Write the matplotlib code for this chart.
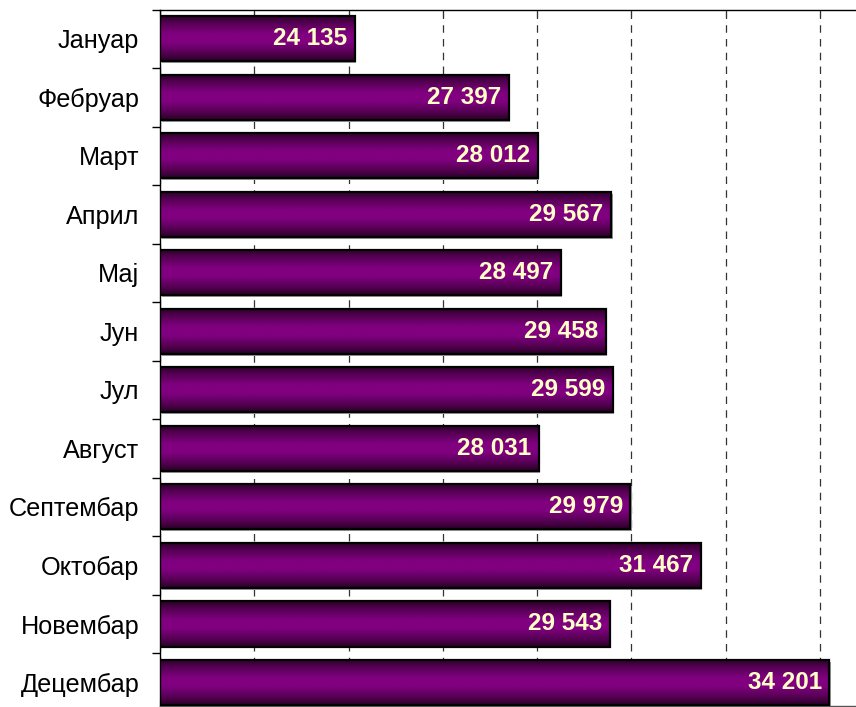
import numpy as np
import matplotlib
matplotlib.use("Agg")
import matplotlib.pyplot as plt
from matplotlib.colors import LinearSegmentedColormap
from matplotlib.patches import Rectangle

months = ["Јануар", "Фебруар", "Март", "Април", "Мај", "Јун", "Јул",
          "Август", "Септембар", "Октобар", "Новембар", "Децембар"]
values = [24135, 27397, 28012, 29567, 28497, 29458, 29599,
          28031, 29979, 31467, 29543, 34201]
x_ticks = [20000, 22000, 24000, 26000, 28000, 30000, 32000, 34000]

plt.rcParams['font.family'] = ['Liberation Sans', 'DejaVu Sans']

W, H = 856, 707
fig = plt.figure(figsize=(W / 100, H / 100), dpi=100)
ax = fig.add_axes([160 / W, (H - 706) / H, 1 - 160 / W, (706 - 9.5) / H])

cmap = LinearSegmentedColormap.from_list(
    "pg", ["#2a0026", "#5a0058", "#800080", "#800080", "#5a0058", "#2a0026"])
grad = np.linspace(0, 1, 256).reshape(-1, 1)

height = 0.77
y = np.arange(len(months))
bars = ax.barh(y, values, left=0, height=height, facecolor="none",
               edgecolor="black", linewidth=1.6, zorder=4)

xmin = 20000
for b in bars:
    x0 = xmin
    x1 = b.get_x() + b.get_width()
    yb = b.get_y()
    yt = yb + b.get_height()
    # subtle shadow
    sh = Rectangle((x0, yb), x1 - x0, b.get_height(), facecolor="#9a9a9a",
                   edgecolor="none", zorder=1.5,
                   transform=ax.transData + matplotlib.transforms.ScaledTranslation(
                       1.5 / 100, -1.8 / 100, fig.dpi_scale_trans))
    ax.add_patch(sh)
    im = ax.imshow(grad, extent=(x0, x1, yt, yb), aspect="auto", cmap=cmap,
                   zorder=2, interpolation="bilinear")
    im.set_clip_path(b)

for yi, v in zip(y, values):
    ax.annotate(f"{v:,}".replace(",", " "), xy=(v, yi), xytext=(-5.5, 0),
                textcoords="offset points", ha="right", va="center",
                color="#FFFFC6", fontsize=17.5, fontweight="bold", zorder=5)

ax.set_xlim(xmin, xmin + (W - 160) / (660 / 14000))
ax.set_ylim(11.0 + 23.5 / 58.55, -0.5)

ax.set_xticks(x_ticks)
ax.tick_params(axis="x", which="major", labelbottom=False, bottom=True, top=True,
               direction="in", length=5, width=0.8, color="#333333")
ax.grid(axis="x", linestyle=(0, (6, 5)), color="#333333", linewidth=0.9, zorder=0)
ax.set_axisbelow(True)

ax.set_yticks(y)
ax.set_yticklabels(months, fontsize=18.2)
ax.tick_params(axis="y", which="major", length=0, pad=15)
ax.set_yticks(np.arange(-0.5, 11.5, 1), minor=True)
ax.tick_params(axis="y", which="minor", length=6, width=1.0, direction="out")

for s in ["left", "top", "bottom"]:
    ax.spines[s].set_color("black")
    ax.spines[s].set_linewidth(1.0)
ax.spines["right"].set_visible(False)
ax.spines["bottom"].set_color("#555555")

fig.savefig("out.png", dpi=100)
